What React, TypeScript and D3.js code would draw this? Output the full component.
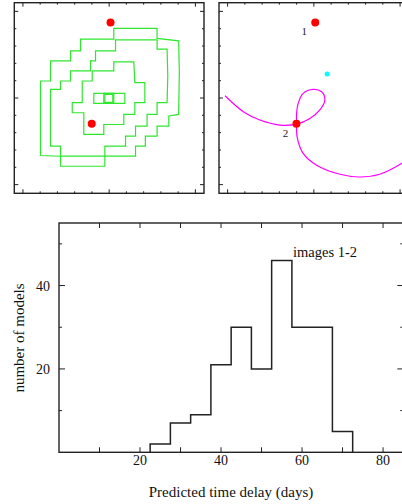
import React from 'react';
import * as d3 from 'd3';

// ---------- data ----------
// lensed image positions (arcsec) and labels
const imageX = [0.008, -0.101];
const imageY = [0.436, -0.149];
const imageLabels = ['1', '2'];
// source position (arcsec)
const sourceX = [0.077];
const sourceY = [0.139];

// mass-map contours (arcsec), pixelated
const contourOuter: [number, number][] = [
  [0.027, 0.402], [0.278, 0.402], [0.278, 0.344], [0.403, 0.33], [0.407, 0.147], [0.403, -0.095],
  [0.346, -0.104], [0.346, -0.162], [0.278, -0.162], [0.278, -0.22], [0.21, -0.22], [0.21, -0.278],
  [0.153, -0.278], [0.153, -0.336], [-0.025, -0.336], [-0.025, -0.394], [-0.282, -0.394], [-0.282, -0.336],
  [-0.398, -0.332], [-0.398, 0.098], [-0.34, 0.098], [-0.34, 0.214], [-0.224, 0.214], [-0.224, 0.272],
  [-0.166, 0.272], [-0.166, 0.34], [0.027, 0.34],
];
const contourMiddle: [number, number][] = [
  [0.037, 0.336], [0.278, 0.336], [0.278, 0.282], [0.336, 0.282], [0.34, 0.127], [0.336, -0.027],
  [0.278, -0.027], [0.278, -0.095], [0.22, -0.095], [0.22, -0.162], [0.153, -0.162], [0.153, -0.22],
  [0.095, -0.22], [0.095, -0.278], [-0.025, -0.278], [-0.025, -0.336], [-0.282, -0.336], [-0.282, -0.278],
  [-0.34, -0.278], [-0.34, 0.05], [-0.282, 0.05], [-0.282, 0.098], [-0.224, 0.098], [-0.224, 0.156],
  [-0.108, 0.156], [-0.108, 0.214], [-0.079, 0.214], [-0.079, 0.272], [0.037, 0.272],
];
const contourInner: [number, number][] = [
  [0.027, 0.208], [0.143, 0.208], [0.149, 0.089], [0.207, 0.089], [0.207, -0.027], [0.149, -0.027],
  [0.149, -0.095], [0.085, -0.095], [0.085, -0.153], [-0.031, -0.153], [-0.031, -0.21], [-0.147, -0.21],
  [-0.147, -0.085], [-0.214, -0.085], [-0.214, -0.027], [-0.156, -0.027], [-0.156, 0.098], [-0.098, 0.098],
  [-0.098, 0.156], [0.027, 0.156],
];
const contourCore: [number, number][] = [
  [-0.089, 0.027], [0.091, 0.027], [0.091, -0.031], [-0.089, -0.031],
];
const contourPeakA: [number, number][] = [
  [-0.031, 0.027], [0.027, 0.027], [0.027, -0.031], [-0.031, -0.031],
];
const contourPeakB: [number, number][] = [
  [-0.025, 0.021], [0.021, 0.021], [0.021, -0.025], [-0.025, -0.025],
];

// arrival-time saddle contour (arcsec)
const saddleCurve: [number, number][] = [
  [-0.515, 0.013], [-0.409, -0.079], [-0.313, -0.127], [-0.197, -0.156], [-0.1, -0.151],
  [-0.023, -0.118], [0.035, -0.069], [0.064, -0.012], [0.045, 0.036], [-0.004, 0.05],
  [-0.062, 0.027], [-0.091, -0.031], [-0.1, -0.089], [-0.1, -0.151], [-0.097, -0.224],
  [-0.062, -0.32], [0.016, -0.388], [0.151, -0.44], [0.266, -0.456], [0.382, -0.44],
  [0.508, -0.378], [0.614, -0.301],
];

// histogram
const binEdges = [22.5, 27.5, 32.5, 37.5, 42.5, 47.5, 52.5, 57.5, 62.5, 67.5, 72.5];
const modelCounts = [2, 7, 9, 21, 30, 20, 46, 30, 30, 5];
const xTickLabels = [20, 40, 60, 80];
const xMinorTicks = [10, 30, 50, 70];
const yTickLabels = [20, 40];
const yMinorTicks = [10, 30, 50];

const FONT = '"Liberation Serif", "Times New Roman", serif';
const FRAME = '#222';

function MapPanel({ x0, id, children }: { x0: number; id: string; children: (xs: any, ys: any) => React.ReactNode }) {
  const y0 = 2.7;
  const w = 189.7;
  const h = 190.6;
  const xs = d3.scaleLinear().domain([-0.55, 0.55]).range([x0, x0 + w]);
  const ys = d3.scaleLinear().domain([-0.55, 0.55]).range([y0 + h, y0]);
  const ticks = xs.ticks(10);
  const isMajor = (v: number) => Math.abs(v) < 1e-9 || Math.abs(Math.abs(v) - 0.5) < 1e-9;
  return (
    <g>
      <defs>
        <clipPath id={id}>
          <rect x={x0} y={y0} width={w} height={h} />
        </clipPath>
      </defs>
      <g clipPath={`url(#${id})`}>{children(xs, ys)}</g>
      {ticks.map((t, i) => {
        const L = isMajor(t) ? 4 : 2;
        return (
          <g key={i} stroke={FRAME} strokeWidth={1}>
            <line x1={xs(t)} x2={xs(t)} y1={y0 + h} y2={y0 + h - L} />
            <line x1={xs(t)} x2={xs(t)} y1={y0} y2={y0 + L} />
            <line y1={ys(t)} y2={ys(t)} x1={x0} x2={x0 + L} />
            <line y1={ys(t)} y2={ys(t)} x1={x0 + w} x2={x0 + w - L} />
          </g>
        );
      })}
      <rect x={x0} y={y0} width={w} height={h} fill="none" stroke={FRAME} strokeWidth={1.4} />
    </g>
  );
}

export default function App() {
  const stepLine = d3.line<[number, number]>();

  // histogram scales
  const hx = d3.scaleLinear().domain([0, 85]).range([59, 403.3]);
  const hy = d3.scaleLinear().domain([0, 55]).range([452.3, 223]);
  const histPts: [number, number][] = [];
  histPts.push([binEdges[0], 0]);
  modelCounts.forEach((c, i) => {
    histPts.push([binEdges[i], c]);
    histPts.push([binEdges[i + 1], c]);
  });
  histPts.push([binEdges[binEdges.length - 1], 0]);
  const histLine = d3.line<[number, number]>().x((d) => hx(d[0])).y((d) => hy(d[1]));

  const contours = [contourOuter, contourMiddle, contourInner, contourCore, contourPeakA, contourPeakB];

  return (
    <svg width={402} height={504} style={{ position: 'absolute', left: 0, top: 0, background: '#fff' }}>
      <rect width={402} height={504} fill="#fff" />
      <MapPanel x0={14.3} id="clipL">
        {(xs, ys) => (
          <g>
            {contours.map((c, i) => (
              <path
                key={i}
                d={stepLine.x((d) => xs(d[0])).y((d) => ys(d[1]))(c) + 'Z'}
                fill="none"
                stroke="#2ee62e"
                strokeWidth={1.2}
              />
            ))}
            {imageX.map((x, i) => (
              <circle key={i} cx={xs(x)} cy={ys(imageY[i])} r={4} fill="#ff0000" />
            ))}
          </g>
        )}
      </MapPanel>
      <MapPanel x0={219} id="clipR">
        {(xs, ys) => (
          <g>
            <path
              d={d3.line<[number, number]>().x((d) => xs(d[0])).y((d) => ys(d[1])).curve(d3.curveCatmullRom.alpha(0.5))(saddleCurve) || ''}
              fill="none"
              stroke="#ff00ff"
              strokeWidth={1.2}
            />
            {sourceX.map((x, i) => (
              <circle key={i} cx={xs(x)} cy={ys(sourceY[i])} r={2.5} fill="#00ffff" />
            ))}
            {imageX.map((x, i) => (
              <circle key={i} cx={xs(x)} cy={ys(imageY[i])} r={4} fill="#ff0000" />
            ))}
            {imageX.map((x, i) => (
              <text
                key={i}
                x={xs(x) - 11}
                y={ys(imageY[i]) + 13}
                fontFamily={FONT}
                fontSize={11}
                textAnchor="middle"
                fill="#222"
              >
                {imageLabels[i]}
              </text>
            ))}
          </g>
        )}
      </MapPanel>

      {/* histogram */}
      <g>
        {[...xTickLabels, ...xMinorTicks].map((t, i) => (
          <g key={i} stroke={FRAME} strokeWidth={1}>
            <line x1={hx(t)} x2={hx(t)} y1={hy(0)} y2={hy(0) - 5} />
            <line x1={hx(t)} x2={hx(t)} y1={hy(55)} y2={hy(55) + 5} />
          </g>
        ))}
        {[...yTickLabels.map((t) => [t, 6]), ...yMinorTicks.map((t) => [t, 3])].map(([t, L], i) => (
          <g key={i} stroke={FRAME} strokeWidth={1}>
            <line x1={hx(0)} x2={hx(0) + L} y1={hy(t)} y2={hy(t)} />
            <line x1={hx(85)} x2={hx(85) - L} y1={hy(t)} y2={hy(t)} />
          </g>
        ))}
        <rect x={hx(0)} y={hy(55)} width={hx(85) - hx(0)} height={hy(0) - hy(55)} fill="none" stroke={FRAME} strokeWidth={1.4} />
        <path d={histLine(histPts) || ''} fill="none" stroke={FRAME} strokeWidth={1.5} />
        {xTickLabels.map((t) => (
          <text key={t} x={hx(t)} y={hy(0) + 12.5} fontFamily={FONT} fontSize={14} textAnchor="middle" fill="#111">
            {t}
          </text>
        ))}
        {yTickLabels.map((t) => (
          <text key={t} x={hx(0) - 9} y={hy(t) + 5} fontFamily={FONT} fontSize={14} textAnchor="end" fill="#111">
            {t}
          </text>
        ))}
        <text x={231} y={497} fontFamily={FONT} fontSize={15} textAnchor="middle" fill="#111">
          Predicted time delay (days)
        </text>
        <text
          transform="translate(24,338) rotate(-90)"
          fontFamily={FONT}
          fontSize={15}
          textAnchor="middle"
          fill="#111"
        >
          number of models
        </text>
        <text x={293} y={256.5} fontFamily={FONT} fontSize={14.5} fill="#111">
          images 1-2
        </text>
      </g>
    </svg>
  );
}
